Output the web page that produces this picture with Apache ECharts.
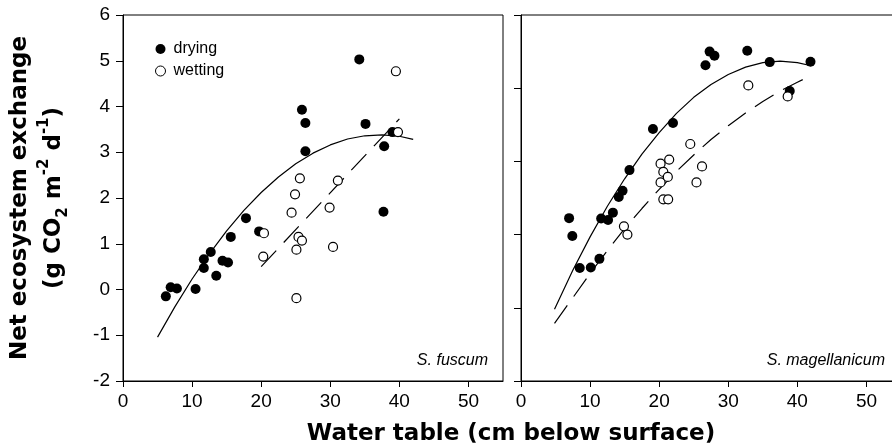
<!DOCTYPE html>
<html lang="en">
<head>
  <meta charset="UTF-8">
  <title>Net ecosystem exchange vs water table</title>
  <script src="https://cdn.jsdelivr.net/npm/echarts@6/dist/echarts.min.js"></script>
  <style>
    html, body { margin: 0; padding: 0; background: #fff; }
    #wrap { width: 892px; height: 447px; }
  </style>
</head>
<body>
<div id="wrap"></div>
<script>
  // tick values
  const xTicks = [0, 10, 20, 30, 40, 50]
  const yTicksLeft = [-2, -1, 0, 1, 2, 3, 4, 5, 6]
  const yTicksRight = [-2, -0.4, 1.2, 2.8, 4.4, 6]

  // S. fuscum  [water table, NEE]
  const fuscumDrying = [[6.2, -0.15], [6.9, 0.05], [7.8, 0.02], [10.5, 0.01], [11.7, 0.66], [11.7, 0.47],
    [12.7, 0.82], [13.5, 0.3], [14.4, 0.63], [15.2, 0.59], [15.6, 1.15], [17.8, 1.56], [19.7, 1.27],
    [25.9, 3.93], [26.4, 3.64], [26.4, 3.02], [34.2, 5.03], [35.1, 3.62], [37.7, 1.7], [37.8, 3.13], [39.0, 3.44]]
  const fuscumWetting = [[20.3, 0.72], [20.4, 1.23], [24.4, 1.68], [24.9, 2.08], [25.6, 2.43], [25.1, 0.87],
    [25.4, 1.15], [25.9, 1.07], [25.1, -0.19], [29.9, 1.79], [30.4, 0.93], [31.1, 2.38], [39.5, 4.77], [39.8, 3.44]]
  const fuscumDryFit = [[5, -1.04], [7.5, -0.38], [10, 0.23], [12.5, 0.78], [15, 1.28], [17.5, 1.73], [20, 2.12],
    [22.5, 2.46], [25, 2.75], [27.5, 2.98], [30, 3.16], [32.5, 3.29], [35, 3.36], [37.5, 3.38], [40, 3.35], [42, 3.28]]
  const fuscumWetFit = [[20, 0.5], [40, 3.73]]

  // S. magellanicum
  const magDrying = [[6.96, 1.56], [7.43, 1.17], [8.5, 0.47], [10.1, 0.48], [11.35, 0.67], [11.6, 1.55],
    [12.6, 1.52], [13.3, 1.68], [14.15, 2.02], [14.7, 2.16], [15.7, 2.61], [19.1, 3.51], [22.0, 3.64],
    [26.7, 4.9], [27.3, 5.2], [28.0, 5.11], [32.75, 5.22], [36.0, 4.97], [38.9, 4.34], [41.9, 4.98]]
  const magWetting = [[14.9, 1.38], [15.4, 1.2], [20.2, 2.75], [20.6, 2.57], [21.45, 2.84], [20.2, 2.34],
    [21.25, 2.46], [20.6, 1.97], [21.3, 1.97], [24.5, 3.18], [26.2, 2.69], [25.4, 2.34], [32.9, 4.46], [38.6, 4.22]]
  const magDryFit = [[4.85, -0.43], [7.5, 0.42], [10, 1.15], [12.5, 1.82], [15, 2.42], [17.5, 2.96], [20, 3.43],
    [22.5, 3.85], [25, 4.2], [27.5, 4.48], [30, 4.7], [32.5, 4.86], [35, 4.96], [37.5, 4.99], [40, 4.96], [42, 4.89]]
  const magWetFit = [[4.85, -0.74], [7.5, -0.18], [10, 0.35], [12.5, 0.85], [15, 1.33], [17.5, 1.77], [20, 2.19],
    [22.5, 2.58], [25, 2.94], [27.5, 3.28], [30, 3.58], [32.5, 3.86], [35, 4.11], [37.5, 4.34], [40, 4.53], [41.2, 4.62]]

  const chart = echarts.init(document.querySelector('#wrap'), null, { renderer: 'canvas' })

  const tickFont = { color: '#000', fontSize: 19, fontFamily: '"Liberation Sans", Arial, sans-serif' }

  function xAxis(idx) {
    return {
      type: 'value', gridIndex: idx, min: 0, max: 55, interval: 10,
      splitLine: { show: false },
      axisLine: { show: true, onZero: false, lineStyle: { color: '#000', width: 1 } },
      axisTick: { show: true, length: 6, customValues: xTicks, lineStyle: { color: '#000' } },
      axisLabel: Object.assign({ margin: 11, customValues: xTicks, hideOverlap: false }, tickFont)
    }
  }

  function yAxis(idx, ticks, labels) {
    return {
      type: 'value', gridIndex: idx, min: -2, max: 6, interval: idx === 0 ? 1 : 1.6,
      splitLine: { show: false },
      axisLine: { show: true, onZero: false, lineStyle: { color: '#000', width: 1 } },
      axisTick: { show: true, length: 7, customValues: ticks, lineStyle: { color: '#000' } },
      axisLabel: Object.assign({ show: labels, margin: 13, customValues: ticks, hideOverlap: false }, tickFont)
    }
  }

  function dots(name, data, idx, filled) {
    return {
      name: name, type: 'scatter', xAxisIndex: idx, yAxisIndex: idx, data: data,
      symbol: 'circle', symbolSize: filled ? 10 : 9, z: 3,
      itemStyle: filled
        ? { color: '#000', opacity: 1 }
        : { color: '#fff', borderColor: '#000', borderWidth: 1.2, opacity: 1 }
    }
  }

  function fit(data, idx, dashed) {
    return {
      type: 'line', xAxisIndex: idx, yAxisIndex: idx, data: data, symbol: 'none', z: 2,
      silent: true, smooth: false,
      lineStyle: { color: '#000', width: 1.2, type: dashed ? [22, 11] : 'solid' }
    }
  }

  const ops = {
    animation: false,
    backgroundColor: '#fff',
    grid: [
      { left: 123, top: 15, width: 380, height: 366, show: true, borderColor: '#000', borderWidth: 1,
        backgroundColor: 'transparent', containLabel: false, outerBoundsMode: 'none' },
      { left: 521, top: 15, width: 380, height: 366, show: true, borderColor: '#000', borderWidth: 1,
        backgroundColor: 'transparent', containLabel: false, outerBoundsMode: 'none' }
    ],
    xAxis: [xAxis(0), xAxis(1)],
    yAxis: [yAxis(0, yTicksLeft, true), yAxis(1, yTicksRight, false)],
    legend: {
      data: ['drying', 'wetting'],
      orient: 'vertical', left: 150, top: 36, itemGap: 6,
      itemWidth: 10, itemHeight: 10, icon: 'circle',
      itemStyle: { borderWidth: 1 },
      textStyle: { color: '#000', fontSize: 16, lineHeight: 16, padding: [0, 0, 0, 3],
        fontFamily: '"Liberation Sans", Arial, sans-serif' },
      selectedMode: false
    },
    series: [
      fit(fuscumDryFit, 0, false),
      fit(fuscumWetFit, 0, true),
      dots('drying', fuscumDrying, 0, true),
      dots('wetting', fuscumWetting, 0, false),
      fit(magDryFit, 1, false),
      fit(magWetFit, 1, true),
      dots('drying', magDrying, 1, true),
      dots('wetting', magWetting, 1, false)
    ],
    graphic: [
      {
        type: 'text', x: 20, y: 198, rotation: Math.PI / 2,
        style: {
          text: 'Net ecosystem exchange', font: 'bold 23px "DejaVu Sans"', fill: '#000',
          align: 'center', verticalAlign: 'middle', textAlign: 'center', textVerticalAlign: 'middle'
        }
      },
      {
        type: 'text', x: 54, y: 198, rotation: Math.PI / 2,
        style: {
          text: '(g CO{sub|2} m{sup|-2} d{sup|-1})', font: 'bold 23px "DejaVu Sans"', fill: '#000',
          align: 'center', verticalAlign: 'middle', textAlign: 'center', textVerticalAlign: 'middle',
          lineHeight: 34,
          rich: {
            sub: { font: 'bold 15px "DejaVu Sans"', fill: '#000', verticalAlign: 'bottom', lineHeight: 34 },
            sup: { font: 'bold 15px "DejaVu Sans"', fill: '#000', verticalAlign: 'top', lineHeight: 34 }
          }
        }
      },
      {
        type: 'text', x: 511, y: 434,
        style: {
          text: 'Water table (cm below surface)', font: 'bold 23px "DejaVu Sans"', fill: '#000',
          align: 'center', verticalAlign: 'middle', textAlign: 'center', textVerticalAlign: 'middle'
        }
      },
      {
        type: 'text', x: 488, y: 361,
        style: {
          text: 'S. fuscum', font: 'italic 16px "Liberation Sans"', fill: '#000',
          align: 'right', verticalAlign: 'middle', textAlign: 'right', textVerticalAlign: 'middle'
        }
      },
      {
        type: 'text', x: 885, y: 361,
        style: {
          text: 'S. magellanicum', font: 'italic 16px "Liberation Sans"', fill: '#000',
          align: 'right', verticalAlign: 'middle', textAlign: 'right', textVerticalAlign: 'middle'
        }
      }
    ]
  }

  chart.setOption(ops)
</script>
</body>
</html>
